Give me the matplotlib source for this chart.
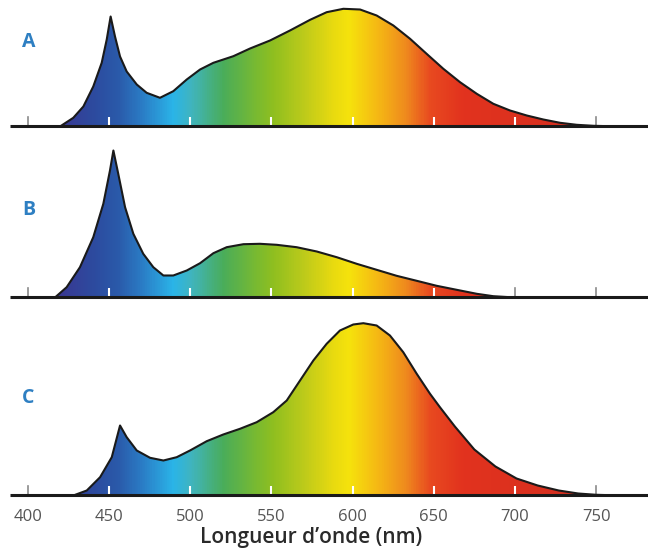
import numpy as np
import matplotlib
matplotlib.use("Agg")
import matplotlib.pyplot as plt
from matplotlib.colors import LinearSegmentedColormap

# Spectra (wavelength in nm, intensity in arbitrary units)
wl_a = [405, 419.7, 427.9, 434.1, 440.2, 445.4, 448.5, 450.9, 453.6, 456.7, 460.8,
        467, 473.1, 481.3, 489.5, 497.8, 506, 514.2, 526.5, 536.8, 549.1, 561.4,
        573.8, 584, 594.3, 604.6, 614.8, 625.1, 635.4, 645.6, 655.9, 666.2, 676.5,
        686.7, 697, 707.3, 717.5, 727.8, 738.1, 748.3, 765]
int_a = [0, 0, 8.7, 20, 40, 63.7, 87, 110, 90, 70, 55,
         42, 33.7, 28.7, 35.3, 47, 57, 63.7, 70.3, 78, 86, 96,
         106.7, 114.3, 117.7, 117, 111, 101, 87.7, 72.7, 57.7, 44.3, 32.7,
         22.7, 16, 11, 7, 3.7, 1.7, 0.7, 0]

wl_b = [405, 416.6, 423.8, 432, 440.2, 446.4, 450.5, 452.6, 455.6, 459.8, 464.9,
        471, 477.2, 483.4, 489.5, 497.8, 506, 514.2, 522.4, 532.7, 542.9, 553.2,
        565.5, 577.9, 590.2, 602.5, 614.8, 627.1, 639.5, 651.8, 664.1, 676.5,
        686.7, 697, 707, 715]
int_b = [0, 0, 10.3, 30.3, 60.3, 93.7, 127, 147, 123.7, 90.3, 63.7,
         43.7, 30.3, 22, 22, 27, 34.3, 44.3, 50.3, 53.3, 53.7, 52.7,
         50.3, 46, 40.3, 33.7, 27.7, 21.7, 16.7, 11.7, 7.7, 3.7,
         1.3, 0.3, 0, 0]

wl_c = [415, 427.9, 436.2, 444.4, 451.6, 456.7, 460.8, 467, 475.2, 483.4, 491.6,
        499.8, 510.1, 520.3, 530.6, 540.9, 551.1, 559.4, 567.6, 575.8, 584, 592.2,
        600.4, 606.6, 614.8, 623, 631.2, 639.5, 647.7, 653.8, 663, 675, 688, 701,
        714, 727, 739, 750, 765]
int_c = [0, 0, 5, 18.3, 38.3, 70, 58.3, 45, 37.7, 35, 38.3,
         45, 54.3, 61, 66.7, 73.3, 83.3, 95, 115, 135, 151.7, 165,
         171, 172.3, 170, 160, 143.3, 121.7, 101.7, 88.3, 69, 46, 29, 17,
         10, 5, 2, 0.7, 0]

panel_names = ["A", "B", "C"]
tick_wl = [400, 450, 500, 550, 600, 650, 700, 750]

# rainbow colours along the wavelength axis
grad_wl = [388.9, 415, 440, 455, 470, 489, 500, 520, 541, 551, 572, 588, 598, 617,
           633, 648, 668, 720, 760, 782.0]
grad_col = ["#3a2f88", "#3b3590", "#2d4b9f", "#2a5aaa", "#2b7dc6", "#2ab4e8",
            "#40b5c0", "#4aad5a", "#7aba30", "#8fbf20", "#c2cc1a", "#e8da10",
            "#f6e30c", "#f5b515", "#ef8a1e", "#e84a20", "#e2331e", "#d9301f",
            "#c42e20", "#c42e20"]

x0, x1 = 388.9, 782.0
W, H = 648, 551
# (baseline px, axes height px) for each panel
panel_px = [(126.5, 126.5), (297.5, 157.5), (495.5, 185.5)]
letter_y = [84.5, 87.5, 97.5]

pos = np.clip([(w - x0) / (x1 - x0) for w in grad_wl], 0, 1)
pos[0], pos[-1] = 0.0, 1.0
cmap = LinearSegmentedColormap.from_list("spec", list(zip(pos, grad_col)))
grad = np.linspace(0, 1, 800).reshape(1, -1)

fig = plt.figure(figsize=(W / 100, H / 100), dpi=100)
fig.patch.set_facecolor("white")

series = [(wl_a, int_a), (wl_b, int_b), (wl_c, int_c)]
for i, ((wl, inten), (base, hgt)) in enumerate(zip(series, panel_px)):
    ax = fig.add_axes([10 / W, (H - base) / H, 638 / W, hgt / H])
    ax.set_xlim(x0, x1)
    ax.set_ylim(0, hgt)
    ax.axis("off")

    wl = np.array(wl)
    inten = np.array(inten)

    # grey ticks first
    for t in tick_wl:
        ax.plot([t, t], [0, 10], color="#8a8a8a", lw=1.2, zorder=1)

    # coloured area stops at 750 nm, the outline runs on a little further
    keep = wl <= 750
    poly = ax.fill_between(wl[keep], 0, inten[keep], facecolor="none", edgecolor="none")
    clip = poly.get_paths()[0]
    im = ax.imshow(grad, cmap=cmap, extent=[x0, x1, 0, hgt], aspect="auto",
                   origin="lower", zorder=2, interpolation="bilinear")
    im.set_clip_path(clip, transform=ax.transData)

    # white ticks where they sit inside the coloured area
    for t in tick_wl:
        ln, = ax.plot([t, t], [0, 10], color="white", lw=1.5, zorder=3,
                      solid_capstyle="butt")
        ln.set_clip_path(clip, transform=ax.transData)

    ax.plot(wl, inten, color="#1a1a1a", lw=1.5, zorder=4, solid_joinstyle="round")
    ax.plot([x0, x1], [0.8, 0.8], color="#1a1a1a", lw=2.2, zorder=5,
            solid_capstyle="butt", clip_on=False)

    ax.text(396.3, letter_y[i], panel_names[i], color="#2e7fc2",
            fontsize=14, fontweight="bold", family="Open Sans",
            ha="left", va="center")

    if i == 2:
        for t in tick_wl:
            ax.text(t, -21.5, str(t), color="#555555", fontsize=12,
                    family="Open Sans", ha="center", va="center")
        ax.text(574.7, -41.5, "Longueur d\u2019onde (nm)", color="#2a2a2a",
                fontsize=15, family="Open Sans", fontweight="semibold",
                ha="center", va="center")

fig.savefig("out.png", dpi=100, facecolor="white")
